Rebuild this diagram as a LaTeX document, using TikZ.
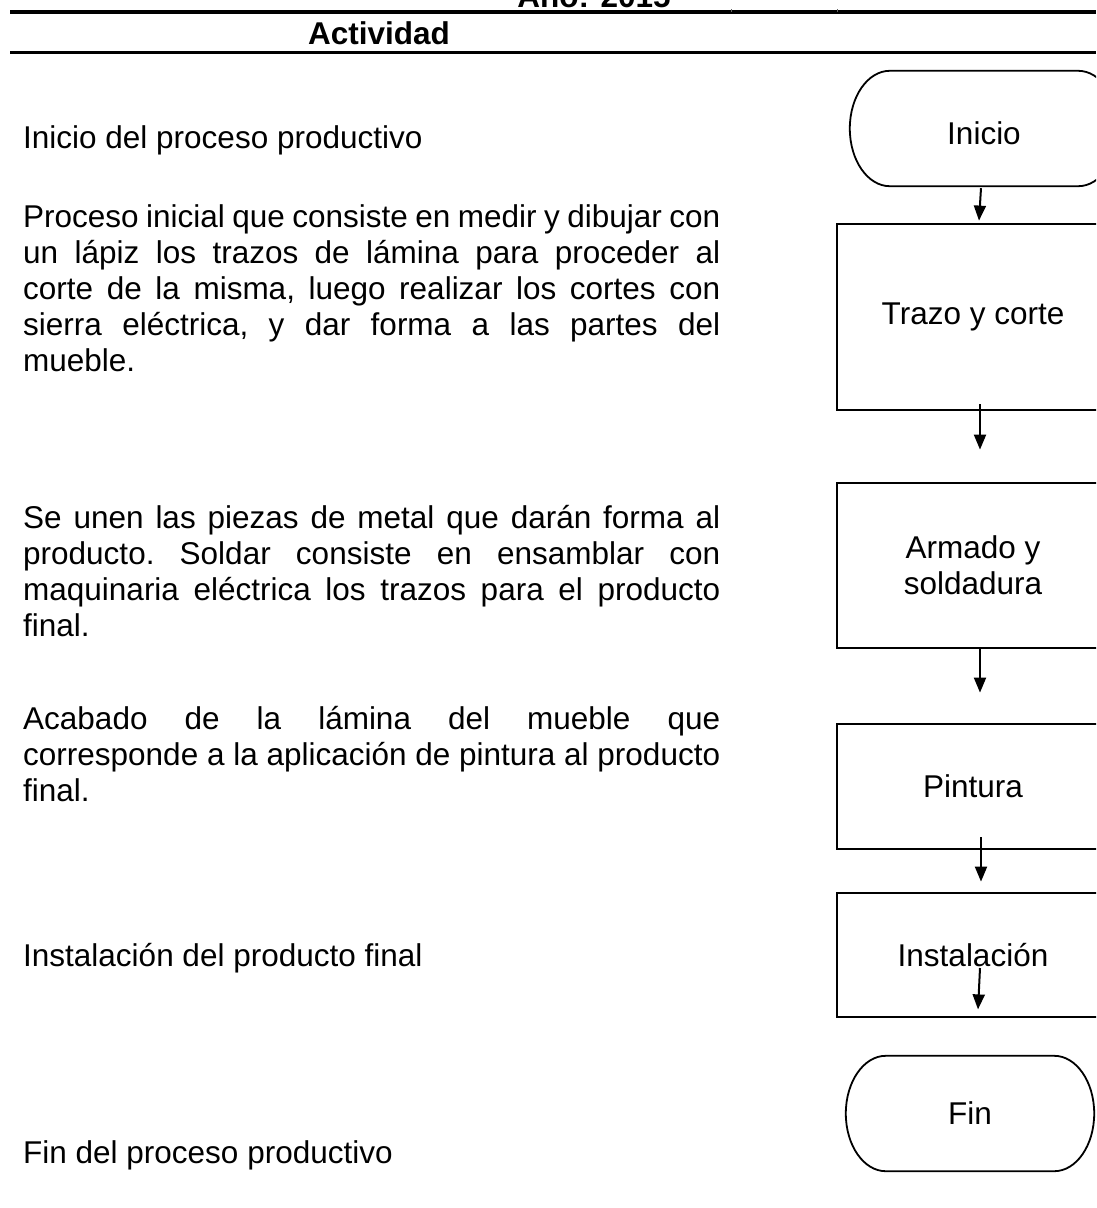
\documentclass[tikz,border=0pt]{standalone}
\usepackage{fontspec}
\setmainfont{Liberation Sans}
\usetikzlibrary{arrows.meta,calc}
\newcommand{\bodyfont}{\fontsize{31.5}{36.2}\selectfont\frenchspacing}
\newcommand{\headfont}{\bfseries\fontsize{31.5}{36}\selectfont}
\tikzset{
  boxstyle/.style={draw, line width=2.8pt, rectangle, minimum width=272pt, align=center, font=\bodyfont, inner sep=0pt},
  termnode/.style={rectangle, minimum height=115pt, font=\bodyfont, inner sep=0pt},
  termline/.style={line width=1.8pt},
  arr/.style={line width=2pt, -{Triangle[length=15pt,width=12pt]}},
  hline/.style={line width=3.2pt},
  tick/.style={line width=0.8pt, black!60},
  desc/.style={anchor=base west, inner sep=0pt},
  head/.style={anchor=base, inner sep=0pt, font=\headfont},
}
\newcommand{\termpath}[1]{%
  \draw[termline] ($(#1.north west)+(40,0)$) -- ($(#1.north east)+(-40,0)$)
    .. controls ($(#1.north east)+(-18,0)$) and ($(#1.east)+(0,-32)$) .. (#1.east)
    .. controls ($(#1.east)+(0,32)$) and ($(#1.south east)+(-18,0)$) .. ($(#1.south east)+(-40,0)$)
    -- ($(#1.south west)+(40,0)$)
    .. controls ($(#1.south west)+(18,0)$) and ($(#1.west)+(0,32)$) .. (#1.west)
    .. controls ($(#1.west)+(0,-32)$) and ($(#1.north west)+(18,0)$) .. ($(#1.north west)+(40,0)$)
    -- cycle;}
\begin{document}
\begin{tikzpicture}[x=1pt, y=-1pt]
\useasboundingbox (0,0) rectangle (1096,1208);
\clip (0,0) rectangle (1096,1208);
\fill[white] (0,0) rectangle (1096,1208);

% header
\node[head] (anio) at (594,7) {Año: 2015};
\coordinate (l1a) at (10,12);
\coordinate (l1b) at (1096,12);
\coordinate (l2a) at (10,52.5);
\coordinate (l2b) at (1096,52.5);
\draw[hline] (l1a) -- (l1b);
\draw[hline] (l2a) -- (l2b);
\coordinate (t1a) at (731,9);
\coordinate (t1b) at (731,12);
\coordinate (t2a) at (837,9);
\coordinate (t2b) at (837,12);
\draw[tick] (t1a) -- (t1b);
\draw[tick] (t2a) -- (t2b);
\node[head] (act) at (379,44) {Actividad};

% descriptions
\node[desc] (d1) at (23,148) {\bodyfont Inicio del proceso productivo};
\node[desc] (d2) at (23,227) {\parbox[t]{697pt}{\bodyfont Proceso inicial que consiste en medir y dibujar con\linebreak un lápiz los trazos de lámina para proceder al\linebreak corte de la misma, luego realizar los cortes con\linebreak sierra eléctrica, y dar forma a las partes del\linebreak mueble.\par}};
\node[desc] (d3) at (23,528) {\parbox[t]{697pt}{\bodyfont Se unen las piezas de metal que darán forma al\linebreak producto. Soldar consiste en ensamblar con\linebreak maquinaria eléctrica los trazos para el producto\linebreak final.\par}};
\node[desc] (d4) at (23,729) {\parbox[t]{697pt}{\bodyfont Acabado de la lámina del mueble que\linebreak corresponde a la aplicación de pintura al producto\linebreak final.\par}};
\node[desc] (d5) at (23,966) {\bodyfont Instalación del producto final};
\node[desc] (d6) at (23,1163) {\bodyfont Fin del proceso productivo};

% flowchart
\node[termnode, minimum width=268pt] (ini) at (984,128.5) {\smash{\raisebox{-16pt}{Inicio}}};
\termpath{ini}
\node[boxstyle, minimum height=186pt] (trazo) at (973,317) {Trazo y corte};
\node[boxstyle, minimum height=165pt] (arm) at (973,565.5) {Armado y\\soldadura};
\node[boxstyle, minimum height=125pt] (pint) at (973,786.5) {Pintura};
\node[boxstyle, minimum height=124pt] (inst) at (973,955) {Instalación};
\node[termnode, minimum width=248pt] (fin) at (970,1113.5) {Fin};
\termpath{fin}

\draw[arr] ($(ini.south)+(-3,2)$) -- ($(trazo.north)+(6,-2)$);
\draw[arr] ($(trazo.south)+(7,-7)$) -- ($(arm.north)+(7,-32)$);
\draw[arr] ($(arm.south)+(7,0)$) -- ($(pint.north)+(7,-30)$);
\draw[arr] ($(pint.south)+(8,-13)$) -- ($(inst.north)+(8,-10)$);
\draw[arr] ($(inst.center)+(7,13)$) -- ($(inst.south)+(5,-9)$);
\end{tikzpicture}
\end{document}
